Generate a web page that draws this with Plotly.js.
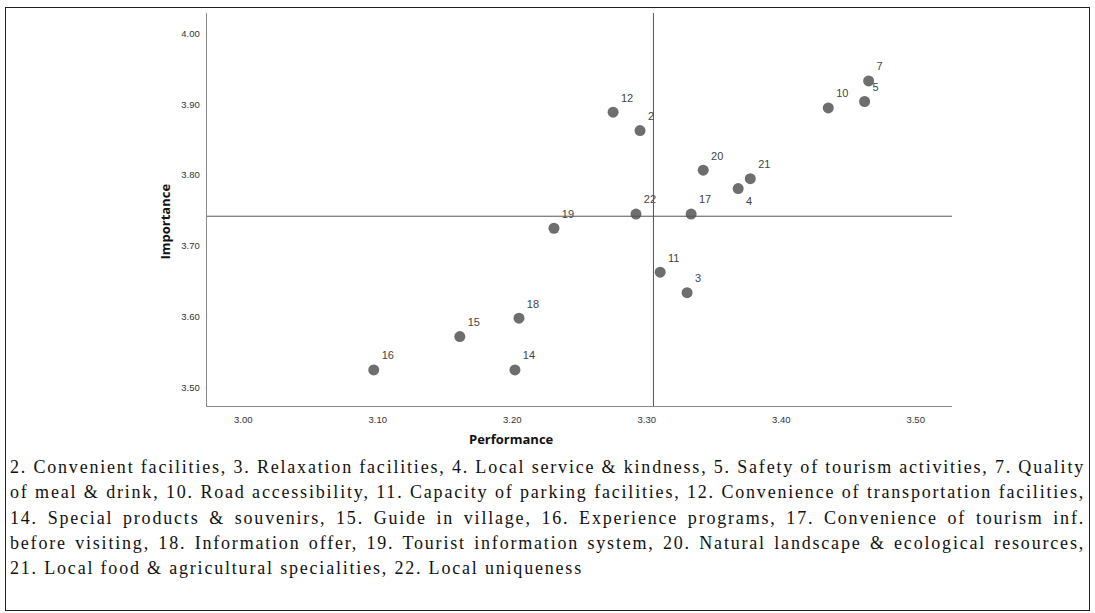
<!DOCTYPE html>
<html><head><meta charset="utf-8">
<script src="https://cdn.plot.ly/plotly-3.0.1.min.js"></script>
<style>
html,body{margin:0;padding:0;background:#fff;width:1095px;height:613px;overflow:hidden;}
#chart{position:absolute;left:0;top:0;width:1095px;height:613px;}
#frame{position:absolute;left:5px;top:7px;width:1085px;height:604px;border:1px solid #222;box-sizing:border-box;pointer-events:none;}
#caption{position:absolute;left:10px;top:455px;width:1075px;font-family:'Liberation Serif',serif;font-size:18px;color:#111;line-height:25.3px;}
.cl{white-space:pre;display:block;}
</style></head><body>
<div id="chart"></div>
<div id="caption"></div>
<div id="frame"></div>
<script>
// Attribute numbers and their (Performance, Importance) means
const pointIds    = [2, 3, 4, 5, 7, 10, 11, 12, 14, 15, 16, 17, 18, 19, 20, 21, 22];
const performance = [3.295, 3.330, 3.368, 3.462, 3.465, 3.435, 3.310, 3.275, 3.202, 3.161, 3.097, 3.333, 3.205, 3.231, 3.342, 3.377, 3.292];
const importance  = [3.863, 3.634, 3.781, 3.904, 3.933, 3.895, 3.663, 3.889, 3.525, 3.572, 3.525, 3.745, 3.598, 3.725, 3.807, 3.795, 3.745];
// Grand means (quadrant lines)
const perfMean = 3.305;
const impMean = 3.742;
// Axis ticks
const xTicks = [3.00, 3.10, 3.20, 3.30, 3.40, 3.50];
const yTicks = [3.50, 3.60, 3.70, 3.80, 3.90, 4.00];
const xTitle = 'Performance';
const yTitle = 'Importance';
// Caption text (lines as in the source figure)
const captionLines = [
  '2. Convenient facilities, 3. Relaxation facilities, 4. Local service & kindness, 5. Safety of tourism activities, 7. Quality',
  'of meal & drink, 10. Road accessibility, 11. Capacity of parking facilities, 12. Convenience of transportation facilities,',
  '14. Special products & souvenirs, 15. Guide in village, 16. Experience programs, 17. Convenience of tourism inf.',
  'before visiting, 18. Information offer, 19. Tourist information system, 20. Natural landscape & ecological resources,',
  '21. Local food & agricultural specialities, 22. Local uniqueness'
];

const trace = {
  type: 'scatter',
  mode: 'markers+text',
  x: performance,
  y: importance,
  text: pointIds.map(String),
  textposition: pointIds.map(id => id === 4 ? 'bottom right' : 'top right'),
  textfont: {family: 'Liberation Sans, Arial, sans-serif', size: 11, color: '#444'},
  marker: {size: 11, color: '#6e6e6e'},
  cliponaxis: false,
  hoverinfo: 'none'
};

const titleFont = {family: 'Open Sans, sans-serif', size: 13, weight: 'bold', color: '#111'};

const layout = {
  width: 1095, height: 613,
  margin: {l: 207, r: 143, t: 13, b: 207},
  paper_bgcolor: 'rgba(0,0,0,0)',
  plot_bgcolor: 'rgba(0,0,0,0)',
  showlegend: false,
  font: {family: 'Liberation Sans, Arial, sans-serif', size: 9.5, color: '#333'},
  xaxis: {
    range: [2.973, 3.527],
    tickvals: xTicks, tickformat: '.2f',
    ticks: '', showgrid: false, zeroline: false,
    showline: true, linecolor: '#8a8a8a', linewidth: 1.3,
    ticklabelstandoff: 4,
    tickfont: {size: 9.5, color: '#333'}
  },
  yaxis: {
    range: [3.474, 4.029],
    tickvals: yTicks, tickformat: '.2f',
    ticks: '', showgrid: false, zeroline: false,
    showline: true, linecolor: '#8a8a8a', linewidth: 1.3,
    ticklabelstandoff: 4,
    tickfont: {size: 9.5, color: '#333'}
  },
  shapes: [
    {type: 'line', xref: 'x', yref: 'paper', x0: perfMean, x1: perfMean, y0: 0, y1: 1, line: {color: '#555', width: 1}},
    {type: 'line', xref: 'paper', yref: 'y', x0: 0, x1: 1, y0: impMean, y1: impMean, line: {color: '#555', width: 1}}
  ],
  annotations: [
    {text: xTitle, xref: 'paper', yref: 'paper', x: 0.409, y: -0.083, xanchor: 'center', yanchor: 'middle', showarrow: false, font: titleFont},
    {text: yTitle, xref: 'paper', yref: 'paper', x: -0.056, y: 0.47, xanchor: 'center', yanchor: 'middle', textangle: -90, showarrow: false, font: titleFont}
  ]
};

Plotly.newPlot('chart', [trace], layout, {displayModeBar: false, staticPlot: true});

// Caption: same letter spacing for all lines, justified lines (all but last)
const cap = document.getElementById('caption');
const capWidth = 1075;
const lastLineWidth = 573;
const spans = captionLines.map(t => {
  const d = document.createElement('div');
  d.className = 'cl';
  const s = document.createElement('span');
  s.textContent = t;
  d.appendChild(s);
  cap.appendChild(d);
  return s;
});
const last = captionLines[captionLines.length - 1];
const wLast = spans[spans.length - 1].getBoundingClientRect().width;
const ls = (lastLineWidth - wLast) / last.length;
cap.style.letterSpacing = ls + 'px';
captionLines.forEach((t, i) => {
  if (i < captionLines.length - 1) {
    const s = spans[i];
    const w = s.getBoundingClientRect().width;
    const n = (t.match(/ /g) || []).length;
    s.style.wordSpacing = ((capWidth - w) / n) + 'px';
  }
});
</script>
</body></html>
